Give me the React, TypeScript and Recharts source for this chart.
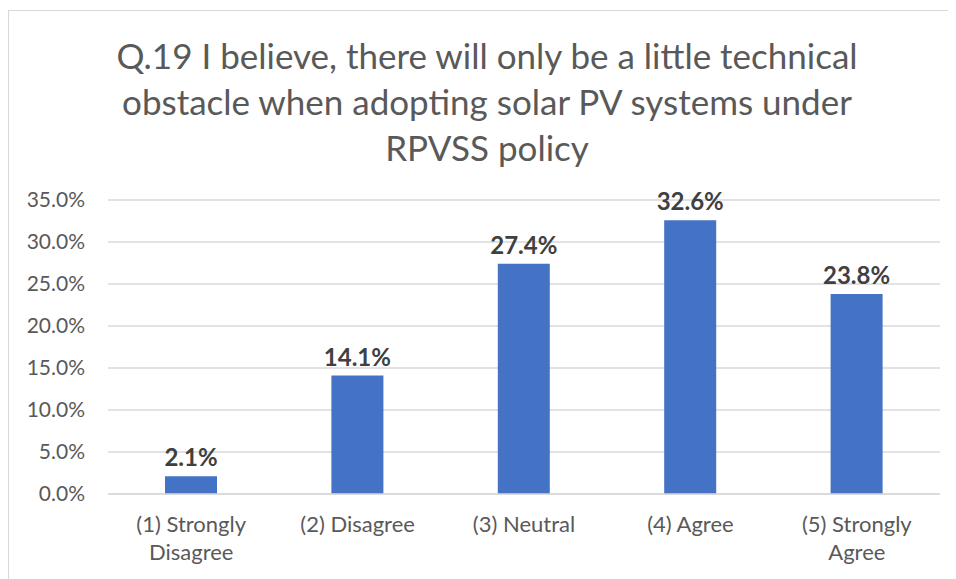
import React from "react";
import { Bar, BarChart, CartesianGrid, LabelList, XAxis, YAxis } from "recharts";

const categories = ["(1) Strongly Disagree", "(2) Disagree", "(3) Neutral", "(4) Agree", "(5) Strongly Agree"];
const shares = [2.1, 14.1, 27.4, 32.6, 23.8];
const yTicks = [0, 5, 10, 15, 20, 25, 30, 35];
const titleLines = [
  "Q.19 I believe, there will only be a little technical",
  "obstacle when adopting solar PV systems under",
  "RPVSS policy",
];

const FONT = "Lato, 'Open Sans', sans-serif";
const data = categories.map((c, i) => ({ name: c, value: shares[i] }));

// wrap long category names onto two lines, like Excel does
function wrap(label: string): string[] {
  if (label.length <= 14) return [label];
  const i = label.lastIndexOf(" ");
  return [label.slice(0, i), label.slice(i + 1)];
}

function CategoryTick(props: any) {
  const { x, y, payload } = props;
  const lines = wrap(String(payload.value));
  return (
    <text x={x} y={y} textAnchor="middle" fill="#595959" fontSize={22} fontFamily={FONT}>
      {lines.map((l, i) => (
        <tspan key={i} x={x} dy={i === 0 ? "0.71em" : 28}>
          {l}
        </tspan>
      ))}
    </text>
  );
}

export default function App() {
  return (
    <div
      style={{
        position: "relative",
        marginTop: 2,
        width: 948,
        height: 568,
        borderTop: "1px solid #d9d9d9",
        borderLeft: "1px solid #d9d9d9",
        fontFamily: FONT,
      }}
    >
      <div
        style={{
          position: "absolute",
          left: 28,
          top: 21,
          width: 900,
          textAlign: "center",
          color: "#595959",
          fontSize: 35,
          lineHeight: "46px",
        }}
      >
        {titleLines.map((l) => (
          <div key={l}>{l}</div>
        ))}
      </div>
      <BarChart
        width={947}
        height={568}
        data={data}
        margin={{ top: 189, right: 16, bottom: 5, left: 19 }}
      >
        <CartesianGrid stroke="#d9d9d9" strokeWidth={1.5} vertical={false} />
        <XAxis
          dataKey="name"
          tick={<CategoryTick />}
          tickLine={false}
          axisLine={{ stroke: "#d9d9d9", strokeWidth: 1.5 }}
          tickSize={0}
          tickMargin={22}
          height={80}
          interval={0}
        />
        <YAxis
          domain={[0, 35]}
          ticks={yTicks}
          tickFormatter={(v: number) => v.toFixed(1) + "%"}
          tick={{ fontSize: 21, fill: "#595959", fontFamily: FONT }}
          tickLine={false}
          axisLine={false}
          tickSize={0}
          tickMargin={23}
          width={80}
          interval={0}
        />
        <Bar dataKey="value" fill="#4472c4" barSize={52} isAnimationActive={false}>
          <LabelList
            dataKey="value"
            position="top"
            offset={10}
            formatter={(v: any) => Number(v).toFixed(1) + "%"}
            style={{ fontSize: 24, fontWeight: 700, fill: "#404040", fontFamily: FONT }}
          />
        </Bar>
      </BarChart>
    </div>
  );
}
